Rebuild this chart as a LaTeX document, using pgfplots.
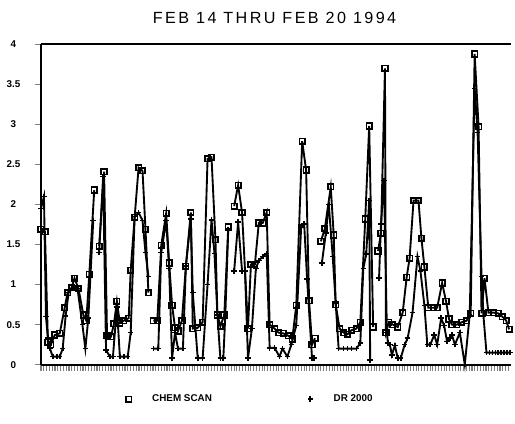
\documentclass[border=0pt]{standalone}
\usepackage{fontspec}
\setmainfont{Liberation Sans}
\newfontfamily\titlefont[LetterSpace=15]{Liberation Sans}
\usepackage{pgfplots}
\pgfplotsset{compat=1.18}
\begin{document}
\begin{tikzpicture}
\begin{axis}[
  scale only axis,
  width=238.5pt, height=162.5pt,
  xmin=38, xmax=515, ymin=0, ymax=4,
  clip=false,
  axis x line*=bottom, axis y line*=left,
  axis line style={line width=0.9pt},
  unbounded coords=jump,
  ytick={0,0.5,1,1.5,2,2.5,3,3.5,4},
  yticklabels={0,0.5,1,1.5,2,2.5,3,3.5,4},
  yticklabel style={anchor=center, xshift=-11pt, font=\bfseries\fontsize{5}{6}\selectfont},
  /pgf/number format/assume math mode=true,
  xtick={38,40.84,...,515},
  xticklabels={},
  tick align=outside,
  major tick length=3pt,
  xtick style={line width=0.55pt},
  ytick style={line width=0.8pt},
  legend columns=2,
  legend style={draw=none, fill=none, inner sep=0pt, anchor=west,
    at={(0.180,-0.108)}, font=\bfseries\fontsize{5}{6}\selectfont,
    /tikz/column 1/.style={column sep=8.5pt},
    /tikz/column 2/.style={column sep=46.5pt},
    /tikz/column 3/.style={column sep=8.5pt}},
]
\path[use as bounding box] (axis cs:0,-0.738) rectangle (axis cs:515,4.554);
\draw[line width=0.9pt] (rel axis cs:0,1) -- (rel axis cs:1,1);
\node[font=\titlefont\fontsize{8.2}{10}\selectfont] at (axis cs:275,4.332) {FEB 14 THRU FEB 20 1994};

\addlegendimage{only marks, mark=square, mark size=1.4pt, line width=0.9pt, black}
\addlegendentry{CHEM SCAN}
\addlegendimage{only marks, mark=+, mark size=1.4pt, line width=0.9pt, black}
\addlegendentry{DR 2000}

\addplot[black, line width=0.95pt, mark=square, mark size=1.4pt, mark options={line width=0.85pt}] coordinates {
(38,1.69) (42,1.66) (45,0.28) (48,0.25) (52,0.37) (57,0.39) (62,0.71) (65,0.90) (69,0.96) (72,1.08) (76,0.95) (81,0.62) (84,0.55) (87,1.13) (92,2.18)
(94,nan)
(97,1.48) (102,2.41) (105,0.36) (109,0.35) (112,0.51) (115,0.79) (118,0.52) (122,0.55) (127,0.58) (129,1.18) (133,1.84) (137,2.46) (141,2.42) (144,1.69) (147,0.90)
(150,nan)
(152,0.55) (156,0.55) (160,1.49) (165,1.89) (168,1.27) (171,0.74) (174,0.46) (177,0.42) (181,0.55) (185,1.23) (190,1.90) (192,0.45) (197,0.46) (202,0.53) (207,2.57) (211,2.59) (215,1.56) (217,0.62) (220,0.48) (224,0.62) (228,1.72)
(231,nan)
(234,1.98) (238,2.24) (242,1.90) (248,0.45) (251,1.25) (255,1.25) (259,1.77) (263,1.77) (267,1.90) (270,0.50) (275,0.45) (279,0.40) (284,0.39) (289,0.36) (293,0.32) (297,0.74) (303,2.79) (307,2.43) (310,0.80) (313,0.25) (316,0.33)
(319,nan)
(322,1.54) (326,1.70) (332,2.22) (335,1.62) (337,0.75) (341,0.45) (345,0.40) (349,0.38) (353,0.43) (358,0.45) (362,0.53) (367,1.82) (371,2.98) (375,0.47)
(378,nan)
(380,1.42) (383,1.64) (387,3.70) (388,0.40) (391,0.53) (395,0.50) (400,0.47) (405,0.65) (409,1.09) (412,1.33) (416,2.05) (421,2.05) (424,1.58) (427,1.22) (431,0.71) (436,0.71) (440,0.71) (445,1.02) (449,0.79) (452,0.57) (455,0.50) (460,0.50) (465,0.53) (470,0.55) (474,0.64) (478,3.88) (482,2.97) (485,0.64) (488,1.08) (492,0.65) (497,0.65) (502,0.64) (506,0.60) (510,0.55) (513,0.44)
};

\addplot[black, line width=0.95pt, mark=+, mark size=1.4pt, mark options={line width=0.85pt}] coordinates {
(38,1.95) (41,2.10) (43,0.60) (45,0.33) (47,0.20) (50,0.10) (54,0.10) (57,0.10) (60,0.20) (63,0.61) (66,0.90) (70,0.95) (75,0.95) (80,0.50) (83,0.20) (86,0.58) (91,1.80)
(94,nan)
(97,1.40) (101,2.35) (104,0.18) (108,0.10) (111,0.10) (115,0.72) (118,0.10) (122,0.10) (126,0.10) (129,0.40) (133,1.85) (137,1.90) (141,1.80) (144,1.40) (147,1.10)
(150,nan)
(152,0.20) (157,0.20) (160,1.40) (165,1.80) (168,1.20) (171,0.08) (174,0.40) (177,0.20) (182,0.20) (185,1.23) (190,1.82) (192,0.90) (197,0.08) (202,0.08) (207,1.00) (211,1.81) (214,1.39) (217,0.62) (220,0.08) (223,0.08) (225,0.62) (228,1.69)
(231,nan)
(234,1.17) (238,1.78) (242,1.17) (245,1.17) (248,0.08) (252,0.45) (256,1.20) (259,1.30) (263,1.35) (267,1.39) (270,0.21) (275,0.21) (280,0.10) (283,0.20) (288,0.10) (292,0.25) (297,0.49) (302,1.72) (305,1.76) (308,1.07) (313,0.08) (315,0.08)
(319,nan)
(323,1.27) (327,1.64) (330,2.00) (334,1.35) (337,0.77) (340,0.20) (345,0.20) (349,0.20) (353,0.20) (358,0.20) (362,0.27) (365,1.20) (368,1.38) (371,2.05) (372,0.06)
(378,nan)
(381,1.08) (383,1.76) (386,2.30) (389,0.40) (390,0.27) (392,0.25) (394,0.12) (397,0.24) (400,0.08) (403,0.08) (407,0.25) (410,0.33) (415,0.65) (420,1.35) (423,1.17) (427,0.74) (430,0.25) (433,0.25) (437,0.37) (440,0.25) (444,0.58) (447,0.49) (450,0.29) (453,0.33) (455,0.37) (458,0.25) (463,0.40) (468,0.00) (473,0.62) (478,3.45) (481,2.90) (485,1.10) (487,0.60) (490,0.15) (493,0.15) (496,0.15) (499,0.15) (502,0.15) (505,0.15) (508,0.15) (511,0.15) (514,0.15)
};
\end{axis}
\end{tikzpicture}
\end{document}
